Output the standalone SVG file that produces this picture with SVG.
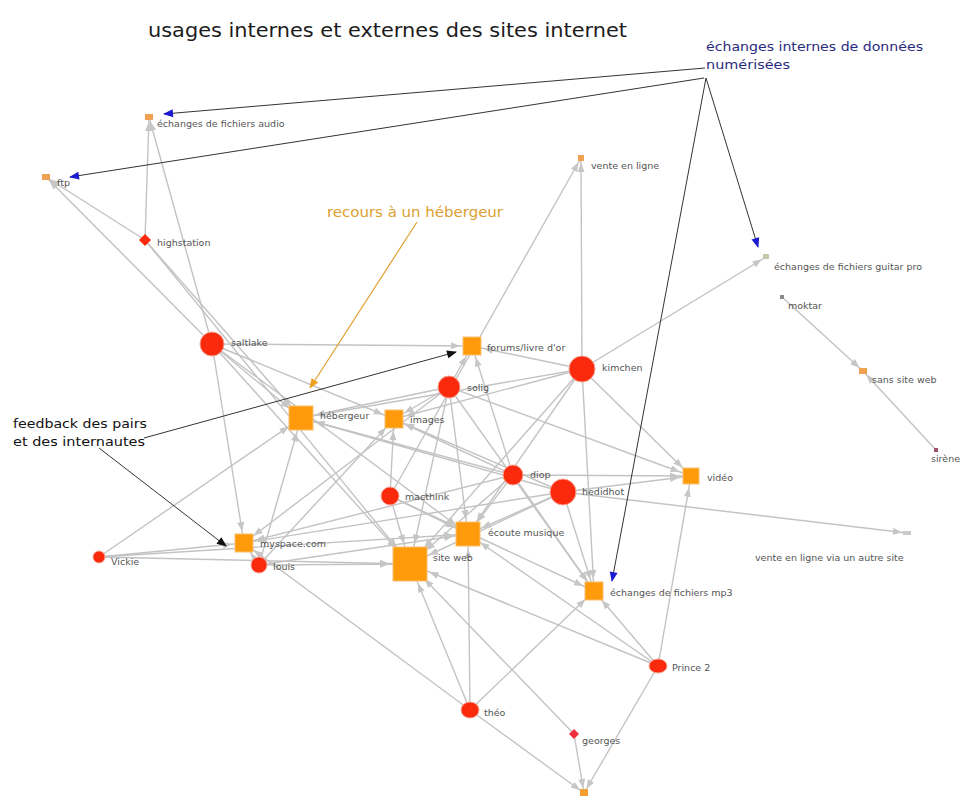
<svg xmlns="http://www.w3.org/2000/svg" width="967" height="796" viewBox="0 0 967 796">
<style>
.e{stroke:#c3c3c3;stroke-width:1.4;fill:none}
.e5{marker-end:url(#a5)}.e12{marker-end:url(#a12)}.e15{marker-end:url(#a15)}.e21{marker-end:url(#a21)}
.p{fill:#fb2a0c;stroke:#f8a090;stroke-width:1}
.o{fill:#ff9a0a;stroke:#f7c070;stroke-width:1}
.lb{font-family:"DejaVu Sans","Liberation Sans",sans-serif;font-size:9.5px;fill:#555}
.an{fill:none;stroke:#333;stroke-width:1}
</style>
<defs>
<marker id="a5" markerUnits="userSpaceOnUse" markerWidth="40" markerHeight="10" refX="14" refY="3.5" orient="auto" overflow="visible"><path d="M0,0 L9,3.5 L0,7 z" fill="#c6c6c6"/></marker>
<marker id="a12" markerUnits="userSpaceOnUse" markerWidth="40" markerHeight="10" refX="21" refY="3.5" orient="auto" overflow="visible"><path d="M0,0 L9,3.5 L0,7 z" fill="#c6c6c6"/></marker>
<marker id="a15" markerUnits="userSpaceOnUse" markerWidth="40" markerHeight="10" refX="24" refY="3.5" orient="auto" overflow="visible"><path d="M0,0 L9,3.5 L0,7 z" fill="#c6c6c6"/></marker>
<marker id="a21" markerUnits="userSpaceOnUse" markerWidth="40" markerHeight="10" refX="30" refY="3.5" orient="auto" overflow="visible"><path d="M0,0 L9,3.5 L0,7 z" fill="#c6c6c6"/></marker>
<marker id="ab" markerUnits="userSpaceOnUse" markerWidth="12" markerHeight="10" refX="9" refY="4" orient="auto" overflow="visible"><path d="M0,0 L10,4 L0,8 z" fill="#1a1ad0"/></marker>
<marker id="ak" markerUnits="userSpaceOnUse" markerWidth="12" markerHeight="10" refX="9" refY="4" orient="auto" overflow="visible"><path d="M0,0 L10,4 L0,8 z" fill="#111"/></marker>
<marker id="ao" markerUnits="userSpaceOnUse" markerWidth="12" markerHeight="10" refX="9" refY="4" orient="auto" overflow="visible"><path d="M0,0 L10,4 L0,8 z" fill="#f0a020"/></marker>
</defs>
<rect width="967" height="796" fill="#fff"/>

<g id="connectors">
<line class="e e5" x1="212" y1="344" x2="149" y2="117"/>
<line class="e e5" x1="145" y1="240" x2="149" y2="117"/>
<line class="e e5" x1="212" y1="344" x2="46" y2="177"/>
<line class="e e5" x1="145" y1="240" x2="46" y2="177"/>
<line class="e e5" x1="582" y1="369" x2="581" y2="158"/>
<line class="e e5" x1="390" y1="496" x2="581" y2="158"/>
<line class="e e5" x1="582" y1="369" x2="766" y2="257"/>
<line class="e e5" x1="563" y1="492" x2="907" y2="533"/>
<line class="e e5" x1="658" y1="666" x2="584" y2="793"/>
<line class="e e5" x1="470" y1="710" x2="584" y2="793"/>
<line class="e e5" x1="574" y1="734" x2="584" y2="793"/>
<line class="e e5" x1="782" y1="297" x2="863" y2="371"/>
<line class="e e5" x1="936" y1="450" x2="863" y2="371"/>
<line class="e e12" x1="212" y1="344" x2="472" y2="346"/>
<line class="e e12" x1="582" y1="369" x2="472" y2="346"/>
<line class="e e12" x1="449" y1="387" x2="472" y2="346"/>
<line class="e e12" x1="513" y1="475" x2="472" y2="346"/>
<line class="e e12" x1="212" y1="344" x2="394" y2="419"/>
<line class="e e12" x1="582" y1="369" x2="394" y2="419"/>
<line class="e e12" x1="449" y1="387" x2="394" y2="419"/>
<line class="e e12" x1="390" y1="496" x2="394" y2="419"/>
<line class="e e12" x1="259" y1="565" x2="394" y2="419"/>
<line class="e e12" x1="563" y1="492" x2="394" y2="419"/>
<line class="e e12" x1="513" y1="475" x2="394" y2="419"/>
<line class="e e15" x1="145" y1="240" x2="301" y2="418"/>
<line class="e e15" x1="212" y1="344" x2="301" y2="418"/>
<line class="e e15" x1="449" y1="387" x2="301" y2="418"/>
<line class="e e15" x1="582" y1="369" x2="301" y2="418"/>
<line class="e e15" x1="259" y1="565" x2="301" y2="418"/>
<line class="e e15" x1="99" y1="557" x2="301" y2="418"/>
<line class="e e15" x1="513" y1="475" x2="301" y2="418"/>
<line class="e e15" x1="563" y1="492" x2="301" y2="418"/>
<line class="e e12" x1="212" y1="344" x2="244" y2="543"/>
<line class="e e12" x1="99" y1="557" x2="244" y2="543"/>
<line class="e e12" x1="259" y1="565" x2="244" y2="543"/>
<line class="e e12" x1="449" y1="387" x2="244" y2="543"/>
<line class="e e12" x1="563" y1="492" x2="244" y2="543"/>
<line class="e e12" x1="470" y1="710" x2="244" y2="543"/>
<line class="e e12" x1="513" y1="475" x2="244" y2="543"/>
<line class="e e21" x1="145" y1="240" x2="410" y2="564"/>
<line class="e e21" x1="212" y1="344" x2="410" y2="564"/>
<line class="e e21" x1="582" y1="369" x2="410" y2="564"/>
<line class="e e21" x1="449" y1="387" x2="410" y2="564"/>
<line class="e e21" x1="513" y1="475" x2="410" y2="564"/>
<line class="e e21" x1="563" y1="492" x2="410" y2="564"/>
<line class="e e21" x1="390" y1="496" x2="410" y2="564"/>
<line class="e e21" x1="259" y1="565" x2="410" y2="564"/>
<line class="e e21" x1="99" y1="557" x2="410" y2="564"/>
<line class="e e21" x1="658" y1="666" x2="410" y2="564"/>
<line class="e e21" x1="470" y1="710" x2="410" y2="564"/>
<line class="e e21" x1="574" y1="734" x2="410" y2="564"/>
<line class="e e15" x1="212" y1="344" x2="468" y2="534"/>
<line class="e e15" x1="582" y1="369" x2="468" y2="534"/>
<line class="e e15" x1="449" y1="387" x2="468" y2="534"/>
<line class="e e15" x1="513" y1="475" x2="468" y2="534"/>
<line class="e e15" x1="563" y1="492" x2="468" y2="534"/>
<line class="e e15" x1="390" y1="496" x2="468" y2="534"/>
<line class="e e15" x1="259" y1="565" x2="468" y2="534"/>
<line class="e e15" x1="658" y1="666" x2="468" y2="534"/>
<line class="e e15" x1="470" y1="710" x2="468" y2="534"/>
<line class="e e15" x1="99" y1="557" x2="468" y2="534"/>
<line class="e e12" x1="582" y1="369" x2="691" y2="476"/>
<line class="e e12" x1="449" y1="387" x2="691" y2="476"/>
<line class="e e12" x1="513" y1="475" x2="691" y2="476"/>
<line class="e e12" x1="563" y1="492" x2="691" y2="476"/>
<line class="e e12" x1="658" y1="666" x2="691" y2="476"/>
<line class="e e12" x1="582" y1="369" x2="594" y2="591"/>
<line class="e e12" x1="513" y1="475" x2="594" y2="591"/>
<line class="e e12" x1="563" y1="492" x2="594" y2="591"/>
<line class="e e12" x1="658" y1="666" x2="594" y2="591"/>
<line class="e e12" x1="470" y1="710" x2="594" y2="591"/>
<line class="e e12" x1="449" y1="387" x2="594" y2="591"/>
<line class="e e12" x1="390" y1="496" x2="594" y2="591"/>
</g>

<g id="annotations">
<line class="an" x1="705" y1="68" x2="164" y2="114" marker-end="url(#ab)"/>
<line class="an" x1="704" y1="78" x2="70" y2="177" marker-end="url(#ab)"/>
<line class="an" x1="706" y1="78" x2="758" y2="247" marker-end="url(#ab)"/>
<line class="an" x1="706" y1="78" x2="612" y2="581" marker-end="url(#ab)"/>
<line x1="417" y1="222" x2="310" y2="388" stroke="#e0a030" stroke-width="1.2" marker-end="url(#ao)"/>
<line class="an" x1="144" y1="438" x2="456" y2="352" marker-end="url(#ak)"/>
<line class="an" x1="99" y1="448" x2="226" y2="546" marker-end="url(#ak)"/>
</g>

<g id="n-audio"><rect x="145" y="114" width="8" height="6" fill="#f0a050"/><text class="lb" x="157" y="127">échanges de fichiers audio</text></g>
<g id="n-ftp"><rect x="42" y="174" width="8" height="6" fill="#f0a050"/><text class="lb" x="57" y="186">ftp</text></g>
<g id="n-highstation"><polygon points="145,234 151,240 145,246 139,240" fill="#fb2a0c"/><text class="lb" x="157" y="246">highstation</text></g>
<g id="n-saltlake"><circle class="p" cx="212" cy="344" r="12"/><text class="lb" x="231" y="346">saltlake</text></g>
<g id="n-forums"><rect class="o" x="463" y="337" width="18" height="18"/><text class="lb" x="487" y="351">forums/livre d'or</text></g>
<g id="n-kimchen"><circle class="p" cx="582" cy="369" r="13"/><text class="lb" x="602" y="371">kimchen</text></g>
<g id="n-solig"><circle class="p" cx="449" cy="387" r="11"/><text class="lb" x="467" y="391">solig</text></g>
<g id="n-hebergeur"><rect class="o" x="289" y="406" width="24" height="24"/><text class="lb" x="320" y="419">hébergeur</text></g>
<g id="n-images"><rect class="o" x="385" y="410" width="18" height="18"/><text class="lb" x="410" y="423">images</text></g>
<g id="n-diop"><circle class="p" cx="513" cy="475" r="10"/><text class="lb" x="530" y="478">diop</text></g>
<g id="n-hedidhot"><circle class="p" cx="563" cy="492" r="13"/><text class="lb" x="582" y="495">hedidhot</text></g>
<g id="n-macthink"><circle class="p" cx="390" cy="496" r="9"/><text class="lb" x="405" y="500">macthink</text></g>
<g id="n-video"><rect class="o" x="683" y="468" width="16" height="16"/><text class="lb" x="707" y="481">vidéo</text></g>
<g id="n-ecoute"><rect class="o" x="456" y="522" width="24" height="24"/><text class="lb" x="488" y="536">écoute musique</text></g>
<g id="n-siteweb"><rect class="o" x="393" y="547" width="34" height="34"/><text class="lb" x="433" y="561">site web</text></g>
<g id="n-myspace"><rect class="o" x="235" y="534" width="18" height="18"/><text class="lb" x="260" y="547">myspace.com</text></g>
<g id="n-louis"><circle class="p" cx="259" cy="565" r="8"/><text class="lb" x="273" y="570">louis</text></g>
<g id="n-vickie"><circle class="p" cx="99" cy="557" r="6"/><text class="lb" x="111" y="565">Vickie</text></g>
<g id="n-mp3"><rect class="o" x="585" y="582" width="18" height="18"/><text class="lb" x="610" y="596">échanges de fichiers mp3</text></g>
<g id="n-venteautre"><rect x="903" y="531" width="8" height="4" fill="#c8c8c8"/><text class="lb" x="755" y="561">vente en ligne via un autre site</text></g>
<g id="n-prince2"><ellipse class="p" cx="658" cy="666" rx="9" ry="7"/><text class="lb" x="672" y="671">Prince 2</text></g>
<g id="n-theo"><ellipse class="p" cx="470" cy="710" rx="9" ry="8"/><text class="lb" x="484" y="716">théo</text></g>
<g id="n-georges"><polygon points="574,729 579,734 574,739 569,734" fill="#f0303a"/><text class="lb" x="582" y="744">georges</text></g>
<g id="n-bottom"><rect x="580" y="789" width="8" height="7" fill="#f4a030"/></g>
<g id="n-venteligne"><rect x="578" y="155" width="6" height="6" fill="#f0a050"/><text class="lb" x="591" y="169">vente en ligne</text></g>
<g id="n-guitarpro"><rect x="763" y="254" width="6" height="5" fill="#c8c8a8"/><text class="lb" x="774" y="270">échanges de fichiers guitar pro</text></g>
<g id="n-moktar"><rect x="780" y="295" width="4" height="4" fill="#888"/><text class="lb" x="788" y="309">moktar</text></g>
<g id="n-sanssite"><rect x="859" y="368" width="8" height="6" fill="#f0a050"/><text class="lb" x="872" y="383">sans site web</text></g>
<g id="n-sirene"><rect x="934" y="448" width="4" height="4" fill="#a05068"/><text class="lb" x="931" y="462" font-size="8">sirène</text></g>

<g id="titles" font-family="'DejaVu Sans','Liberation Sans',sans-serif">
<text x="148" y="37" font-size="19" fill="#1c1c1c" textLength="479" lengthAdjust="spacingAndGlyphs">usages internes et externes des sites internet</text>
<text x="706" y="51" font-size="12.5" fill="#2a2a80" textLength="217" lengthAdjust="spacingAndGlyphs">échanges internes de données</text>
<text x="706" y="69" font-size="12.5" fill="#2a2a80" textLength="84" lengthAdjust="spacingAndGlyphs">numérisées</text>
<text x="327" y="217" font-size="13.5" fill="#dba030" textLength="176" lengthAdjust="spacingAndGlyphs">recours  à un hébergeur</text>
<text x="13" y="428" font-size="13" fill="#111" textLength="134" lengthAdjust="spacingAndGlyphs">feedback des pairs</text>
<text x="13" y="446" font-size="13" fill="#111" textLength="132" lengthAdjust="spacingAndGlyphs">et des internautes</text>
</g>
</svg>
